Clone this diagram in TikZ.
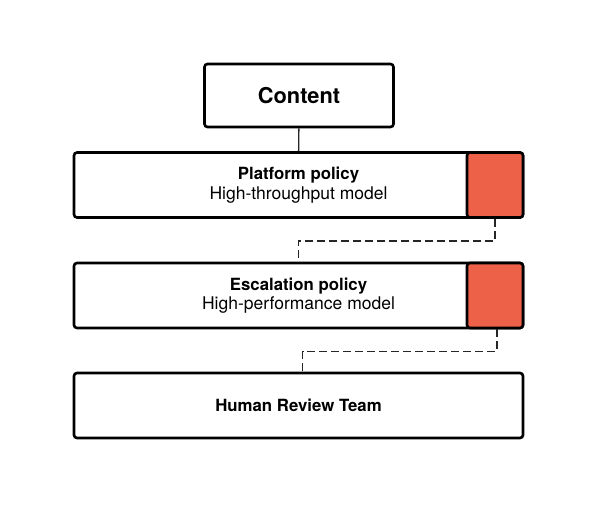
\documentclass[tikz,border=0pt]{standalone}
\usepackage{fontspec}
\setmainfont{TeX Gyre Heros}
\usetikzlibrary{positioning}
\definecolor{flagred}{HTML}{EE6149}
\begin{document}
\begin{tikzpicture}[x=1pt, y=-1pt,
  stage/.style={rectangle, draw=black, fill=white, line width=2.6pt, rounded corners=3pt, minimum width=449pt, minimum height=65pt, align=center, inner sep=0pt},
  flag/.style={rectangle, draw=black, fill=flagred, line width=2.6pt, rounded corners=3pt, minimum width=56pt, minimum height=65pt, inner sep=0pt},
  link/.style={line width=1.4pt, draw=black!85},
  escalate/.style={link, dash pattern=on 8pt off 4pt}
]
  \useasboundingbox (0,0) rectangle (598,520);
  \node[stage, minimum width=189pt, minimum height=63pt] (content) at (299,95.5) {\fontsize{21.8}{24}\selectfont\bfseries Content};
  \node[stage] (platform) at (298.5,185) {\fontsize{16.8}{21}\selectfont\bfseries Platform policy\\[2pt]\fontsize{17.5}{21}\selectfont High-throughput model};
  \node[flag, anchor=east] (flagA) at (platform.east) {};
  \node[stage] (escalation) at (298.5,295.5) {\fontsize{16.8}{21}\selectfont\bfseries Escalation policy\\[2pt]\fontsize{17.5}{21}\selectfont High-performance model};
  \node[flag, anchor=east] (flagB) at (escalation.east) {};
  \node[stage] (human) at (298.5,405.5) {\fontsize{16.8}{21}\selectfont\bfseries Human Review Team};

  \draw[link] (content) -- (platform);
  \draw[escalate] (flagA.south) -- ++(0,22) -| (escalation.north);
  \draw[escalate] ([xshift=2pt]flagB.south) -- ++(0,22) -| ([xshift=4pt]human.north);
\end{tikzpicture}
\end{document}
